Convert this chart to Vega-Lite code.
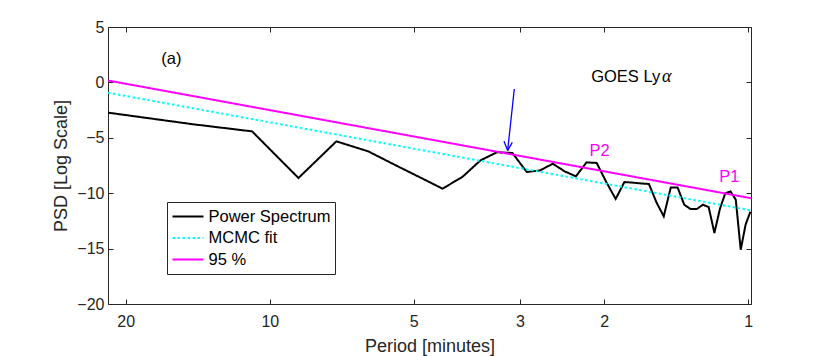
{
  "$schema": "https://vega.github.io/schema/vega-lite/v6.json",
  "width": 643,
  "height": 277,
  "autosize": {"type": "none"},
  "padding": {"left": 108, "top": 27, "right": 79, "bottom": 52},
  "background": "white",
  "config": {
    "font": "Liberation Sans",
    "view": {"stroke": "#262626", "strokeWidth": 1},
    "axis": {
      "grid": false,
      "domain": false,
      "tickColor": "#262626",
      "tickSize": -5,
      "tickWidth": 1,
      "labelColor": "#262626",
      "labelFont": "Liberation Sans",
      "labelFontSize": 16,
      "titleColor": "#262626",
      "titleFont": "Liberation Sans",
      "titleFontSize": 18,
      "titleFontWeight": "normal"
    }
  },
  "datasets": {
    "lines": [
      {"period": 21.775, "psd": -2.73, "series": "Power Spectrum"},
      {"period": 14.517, "psd": -3.77, "series": "Power Spectrum"},
      {"period": 10.888, "psd": -4.42, "series": "Power Spectrum"},
      {"period": 8.71, "psd": -8.63, "series": "Power Spectrum"},
      {"period": 7.258, "psd": -5.32, "series": "Power Spectrum"},
      {"period": 6.221, "psd": -6.23, "series": "Power Spectrum"},
      {"period": 5.444, "psd": -7.5, "series": "Power Spectrum"},
      {"period": 4.839, "psd": -8.6, "series": "Power Spectrum"},
      {"period": 4.355, "psd": -9.59, "series": "Power Spectrum"},
      {"period": 3.959, "psd": -8.54, "series": "Power Spectrum"},
      {"period": 3.629, "psd": -7.04, "series": "Power Spectrum"},
      {"period": 3.35, "psd": -6.3, "series": "Power Spectrum"},
      {"period": 3.111, "psd": -6.37, "series": "Power Spectrum"},
      {"period": 2.903, "psd": -8.09, "series": "Power Spectrum"},
      {"period": 2.722, "psd": -7.94, "series": "Power Spectrum"},
      {"period": 2.562, "psd": -7.34, "series": "Power Spectrum"},
      {"period": 2.419, "psd": -8.03, "series": "Power Spectrum"},
      {"period": 2.292, "psd": -8.48, "series": "Power Spectrum"},
      {"period": 2.178, "psd": -7.22, "series": "Power Spectrum"},
      {"period": 2.074, "psd": -7.27, "series": "Power Spectrum"},
      {"period": 1.98, "psd": -9.0, "series": "Power Spectrum"},
      {"period": 1.893, "psd": -10.52, "series": "Power Spectrum"},
      {"period": 1.815, "psd": -8.99, "series": "Power Spectrum"},
      {"period": 1.742, "psd": -9.05, "series": "Power Spectrum"},
      {"period": 1.675, "psd": -9.12, "series": "Power Spectrum"},
      {"period": 1.613, "psd": -9.17, "series": "Power Spectrum"},
      {"period": 1.555, "psd": -10.84, "series": "Power Spectrum"},
      {"period": 1.502, "psd": -12.09, "series": "Power Spectrum"},
      {"period": 1.452, "psd": -9.48, "series": "Power Spectrum"},
      {"period": 1.405, "psd": -9.48, "series": "Power Spectrum"},
      {"period": 1.361, "psd": -11.04, "series": "Power Spectrum"},
      {"period": 1.32, "psd": -11.43, "series": "Power Spectrum"},
      {"period": 1.281, "psd": -11.43, "series": "Power Spectrum"},
      {"period": 1.244, "psd": -11.04, "series": "Power Spectrum"},
      {"period": 1.21, "psd": -11.25, "series": "Power Spectrum"},
      {"period": 1.177, "psd": -13.59, "series": "Power Spectrum"},
      {"period": 1.146, "psd": -11.4, "series": "Power Spectrum"},
      {"period": 1.117, "psd": -10.0, "series": "Power Spectrum"},
      {"period": 1.089, "psd": -9.84, "series": "Power Spectrum"},
      {"period": 1.062, "psd": -10.59, "series": "Power Spectrum"},
      {"period": 1.037, "psd": -15.1, "series": "Power Spectrum"},
      {"period": 1.013, "psd": -12.84, "series": "Power Spectrum"},
      {"period": 0.99, "psd": -11.67, "series": "Power Spectrum"},
      {"period": 21.78, "psd": -0.93, "series": "MCMC fit"},
      {"period": 0.987, "psd": -11.55, "series": "MCMC fit"},
      {"period": 21.78, "psd": 0.17, "series": "95 %"},
      {"period": 0.987, "psd": -10.45, "series": "95 %"}
    ],
    "arrow": [
      {"p1": 3.083, "v1": -0.6, "p2": 3.183, "v2": -6.15},
      {"p1": 3.24, "v1": -5.32, "p2": 3.183, "v2": -6.15},
      {"p1": 3.113, "v1": -5.41, "p2": 3.183, "v2": -6.15}
    ],
    "centered": [
      {"period": 16.06, "psd": 1.62, "text": "(a)", "kind": "plain"},
      {"period": 2.045, "psd": -6.62, "text": "P2", "kind": "peak"},
      {"period": 1.096, "psd": -8.99, "text": "P1", "kind": "peak"}
    ],
    "leftText": [
      {"period": 2.13, "psd": 0.0, "text": "GOES Ly"}
    ],
    "greek": [
      {"period": 1.522, "psd": 0.0, "text": "α"}
    ]
  },
  "layer": [
    {
      "data": {"name": "lines"},
      "mark": {"type": "line", "strokeWidth": 2, "clip": true},
      "encoding": {
        "x": {
          "field": "period",
          "type": "quantitative",
          "scale": {"type": "log", "domain": [0.987, 21.78], "reverse": true, "nice": false, "zero": false},
          "axis": {"orient": "bottom", "values": [1, 2, 3, 5, 10, 20], "format": "d", "labelPadding": 14, "labelFlush": false, "title": "Period [minutes]", "titlePadding": 8}
        },
        "y": {
          "field": "psd",
          "type": "quantitative",
          "scale": {"domain": [-20, 5], "nice": false, "zero": false},
          "axis": {"orient": "left", "values": [-20, -15, -10, -5, 0, 5], "labelPadding": 9, "title": "PSD [Log Scale]", "titlePadding": 6}
        },
        "color": {
          "field": "series",
          "type": "nominal",
          "scale": {"domain": ["Power Spectrum", "MCMC fit", "95 %"], "range": ["#000000", "#00FFFF", "#FF00FF"]},
          "legend": {
            "orient": "none",
            "legendX": 59,
            "legendY": 175,
            "title": null,
            "fillColor": "white",
            "strokeColor": "#262626",
            "padding": 4.5,
            "symbolType": "stroke",
            "symbolSize": 961,
            "symbolStrokeWidth": 2,
            "clipHeight": 20,
            "rowPadding": 1.5,
            "labelFont": "Liberation Sans",
            "labelFontSize": 16.5,
            "labelColor": "#000000",
            "labelOffset": 4
          }
        },
        "strokeDash": {
          "field": "series",
          "type": "nominal",
          "scale": {"domain": ["Power Spectrum", "MCMC fit", "95 %"], "range": [[1, 0], [2.5, 2.5], [1, 0]]},
          "legend": {
            "orient": "none",
            "legendX": 59,
            "legendY": 175,
            "title": null
          }
        }
      }
    },
    {
      "data": {"name": "arrow"},
      "mark": {"type": "rule", "color": "#0000FF", "strokeWidth": 1.3},
      "encoding": {
        "x": {"field": "p1", "type": "quantitative", "axis": {"orient": "top", "values": [1, 2, 3, 5, 10, 20], "labels": false, "title": null}},
        "y": {"field": "v1", "type": "quantitative", "axis": {"orient": "right", "values": [-20, -15, -10, -5, 0, 5], "labels": false, "title": null}},
        "x2": {"field": "p2"},
        "y2": {"field": "v2"}
      }
    },
    {
      "data": {"name": "centered"},
      "mark": {"type": "text", "font": "Liberation Sans", "fontSize": 16.5, "baseline": "alphabetic", "align": "center"},
      "encoding": {
        "x": {"field": "period", "type": "quantitative", "axis": null},
        "y": {"field": "psd", "type": "quantitative", "axis": null},
        "text": {"field": "text"},
        "color": {"condition": {"test": "datum.kind === 'peak'", "value": "#FF00FF"}, "value": "#000000"}
      }
    },
    {
      "data": {"name": "leftText"},
      "mark": {"type": "text", "font": "Liberation Sans", "fontSize": 16.5, "baseline": "alphabetic", "align": "left", "color": "#000000"},
      "encoding": {
        "x": {"field": "period", "type": "quantitative", "axis": null},
        "y": {"field": "psd", "type": "quantitative", "axis": null},
        "text": {"field": "text"}
      }
    },
    {
      "data": {"name": "greek"},
      "mark": {"type": "text", "font": "Liberation Serif", "fontStyle": "italic", "fontSize": 18, "baseline": "alphabetic", "align": "left", "dx": 1, "color": "#000000"},
      "encoding": {
        "x": {"field": "period", "type": "quantitative", "axis": null},
        "y": {"field": "psd", "type": "quantitative", "axis": null},
        "text": {"field": "text"}
      }
    }
  ],
  "resolve": {"axis": {"x": "independent", "y": "independent"}}
}
